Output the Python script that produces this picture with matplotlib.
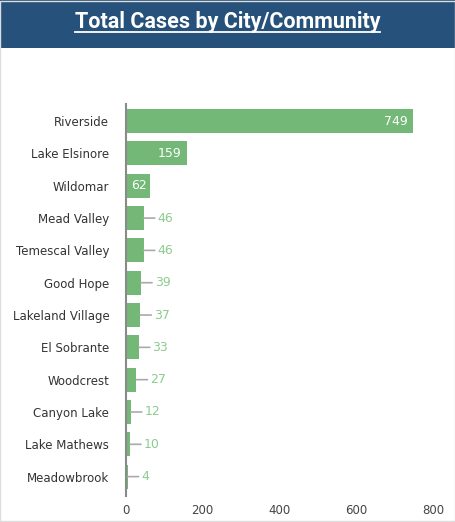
import matplotlib
matplotlib.use("Agg")
import matplotlib.pyplot as plt
from matplotlib.patches import Rectangle
from matplotlib.lines import Line2D

# data
cities = ["Riverside", "Lake Elsinore", "Wildomar", "Mead Valley", "Temescal Valley",
          "Good Hope", "Lakeland Village", "El Sobrante", "Woodcrest", "Canyon Lake",
          "Lake Mathews", "Meadowbrook"]
cases = [749, 159, 62, 46, 46, 39, 37, 33, 27, 12, 10, 4]
x_ticks = [0, 200, 400, 600, 800]

bar_color = "#73b876"
label_green = "#8ccb8f"
header_blue = "#25517a"

W, H = 455, 522
fig = plt.figure(figsize=(W / 100, H / 100), dpi=100)
fig.patch.set_facecolor("white")

# header band and border
fig.add_artist(Rectangle((0, 1 - 48 / H), 1, 48 / H, transform=fig.transFigure,
                         facecolor=header_blue, edgecolor="none", zorder=0))
fig.add_artist(Rectangle((0.001, 0.001), 0.998, 0.998, transform=fig.transFigure,
                         facecolor="none", edgecolor="#dddddd", linewidth=1, zorder=5))
title = fig.text(0.5, 1 - 22 / H, "Total Cases by City/Community", ha="center", va="center",
                 color="white", fontsize=15.5, fontweight="bold", family="Roboto")

ax = fig.add_axes([126 / W, 1 - 496 / H, (433 - 126) / W, (496 - 104) / H])
ypos = list(range(len(cities)))
bars = ax.barh(ypos, cases, height=0.74, color=bar_color, edgecolor="none")
ax.set_xlim(0, 800)
ax.set_ylim(len(cities) - 0.4, -0.53)
ax.set_yticks(ypos)
ax.set_yticklabels(cities, fontsize=8.5, color="#333333", family="DejaVu Sans")
ax.set_xticks(x_ticks)
ax.set_xticklabels([str(t) for t in x_ticks], fontsize=8.5, color="#444444", family="DejaVu Sans")
ax.tick_params(axis="both", length=0)
ax.tick_params(axis="y", pad=12)
ax.tick_params(axis="x", pad=6)
for s in ["top", "right", "bottom"]:
    ax.spines[s].set_visible(False)
ax.spines["left"].set_color("#8a8a8a")
ax.spines["left"].set_linewidth(1.5)

for y, v in zip(ypos, cases):
    if v >= 100:
        ax.annotate(str(v), (v, y), xytext=(-4, 0), textcoords="offset points",
                    ha="right", va="center", color="white", fontsize=9)
    elif v >= 60:
        ax.annotate(str(v), (v, y), xytext=(-2, 0), textcoords="offset points",
                    ha="right", va="center", color="white", fontsize=9)
    else:
        ax.annotate(str(v), (v, y), xytext=(10, 0), textcoords="offset points",
                    ha="left", va="center", color=label_green, fontsize=9,
                    arrowprops=dict(arrowstyle="-", color="#aaaaaa", lw=1.2,
                                    shrinkA=0, shrinkB=0))

# underline under the title
fig.canvas.draw()
bb = title.get_window_extent().transformed(fig.transFigure.inverted())
fig.add_artist(Line2D([bb.x0, bb.x1], [bb.y0 + 1 / H, bb.y0 + 1 / H], transform=fig.transFigure,
                      color="white", linewidth=1.3))

fig.savefig("out.png", dpi=100)
